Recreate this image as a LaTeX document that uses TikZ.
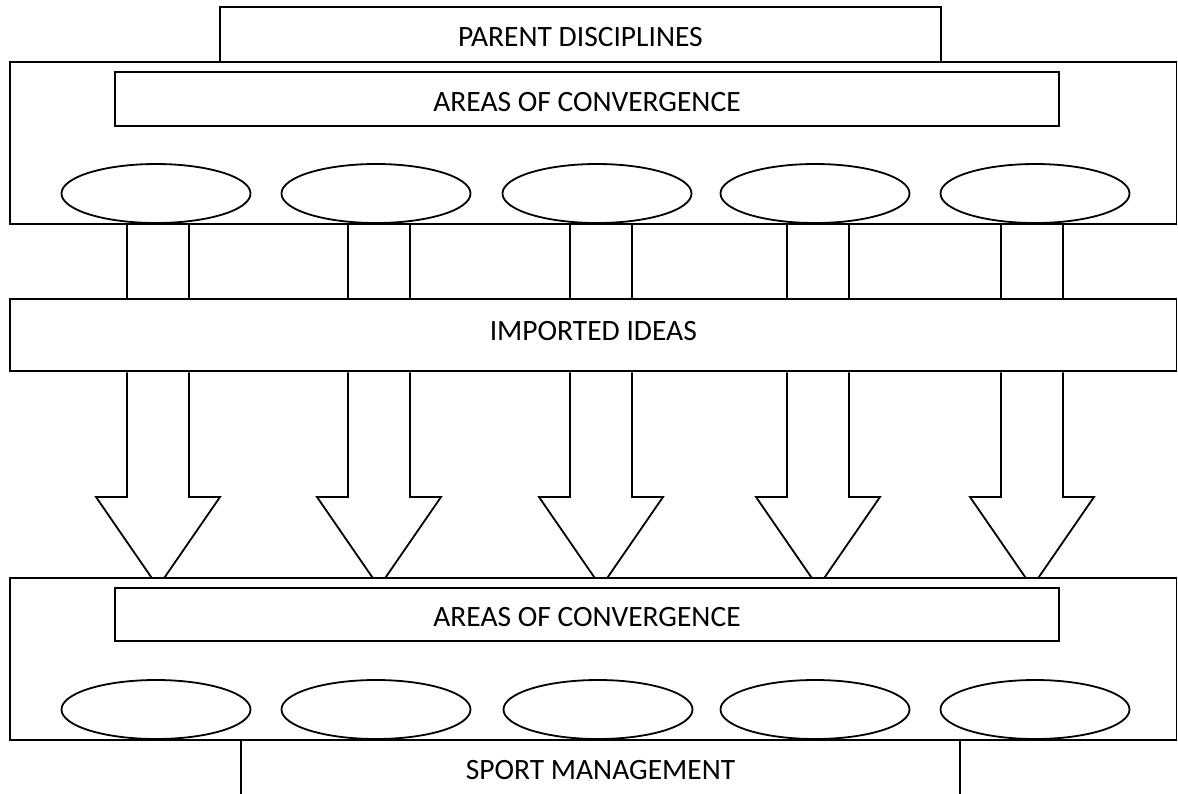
\documentclass[tikz,border=0pt]{standalone}
\usepackage{fontspec}
\setmainfont{Carlito}
\usepackage{tikz}
\usetikzlibrary{shapes.geometric}

\begin{document}
\begin{tikzpicture}[
  x=1pt, y=-1pt,
  line width=1.8pt,
  every node/.style={font=\fontsize{29.5}{34}\selectfont},
  box/.style={draw, fill=white, rectangle, inner sep=0pt},
  wide_box/.style={box, minimum width=1166.5pt},
  conv_box/.style={box, minimum width=943.4pt, text height=24pt, text depth=0pt},
  oval/.style={draw, fill=white, ellipse, inner sep=0pt, minimum width=189pt, minimum height=59pt},
  big_arrow/.style={draw, fill=white, line join=miter}
]
\useasboundingbox (0,0) rectangle (1178,793);
\clip (0,0) rectangle (1178,793);

% Parent disciplines
\node[box, minimum width=720.7pt, minimum height=55pt, text height=23pt, text depth=0pt] (parent) at (580.4,34.5) {PARENT DISCIPLINES};
\node[wide_box, minimum height=161.7pt] (upper) at (593.3,143.2) {};
\node[conv_box, minimum height=54pt] (conv_top) at (587,99.3) {AREAS OF CONVERGENCE};
\foreach \x [count=\i] in {156,376,597,815,1035}
  \node[oval] (top_oval\i) at (\x,193.5) {};

% Imported ideas
\node[wide_box, minimum height=72.3pt, text height=19pt, text depth=9pt] (imported) at (593.3,335.2) {IMPORTED IDEAS};
\foreach \x in {158,379,601,818,1032}{
  \draw (\x-31,0 |- upper.south) -- (\x-31,0 |- imported.north);
  \draw (\x+31,0 |- upper.south) -- (\x+31,0 |- imported.north);
}

% Down arrows
\foreach \x in {158,379,601,818,1032}
  \draw[big_arrow] (\x-31,0 |- imported.south) -- (\x-31,497) -- (\x-62,497)
    -- (\x,587) -- (\x+62,497) -- (\x+31,497) -- (\x+31,0 |- imported.south);

% Sport management
\node[box, minimum width=719.6pt, minimum height=60pt] (sport) at (600.5,770) {SPORT MANAGEMENT};
\node[wide_box, minimum height=162.3pt] (lower) at (593.3,658.9) {};
\node[conv_box, minimum height=53pt] (conv_bot) at (587,614.5) {AREAS OF CONVERGENCE};
\foreach \x [count=\i] in {156,376,598,815,1035}
  \node[oval] (bot_oval\i) at (\x,709.5) {};

\end{tikzpicture}
\end{document}
